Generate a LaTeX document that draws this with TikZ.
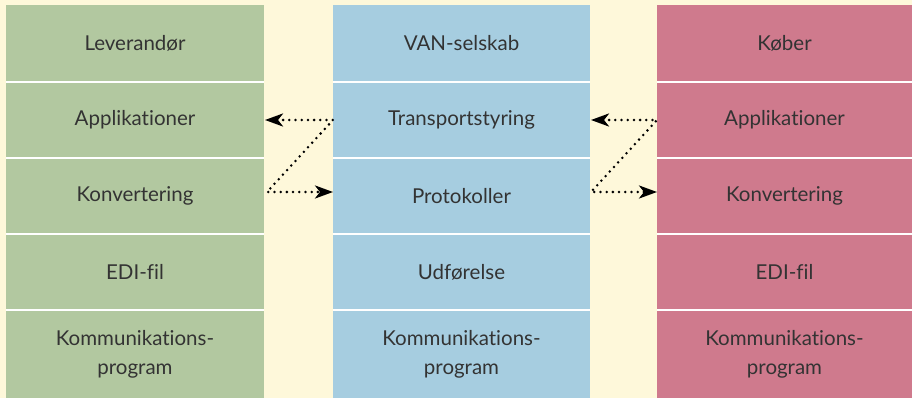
\documentclass[tikz,border=0pt]{standalone}
\usepackage{fontspec}
\setmainfont{Lato}[Ligatures=NoCommon]
\usepackage{tikz}
\usetikzlibrary{arrows.meta,fit}
\definecolor{cream}{HTML}{FEF8DA}
\definecolor{levgreen}{HTML}{B2C8A0}
\definecolor{vanblue}{HTML}{A6CDE0}
\definecolor{kobpink}{HTML}{CF7A8D}
\definecolor{txtgray}{HTML}{333333}

\begin{document}
\begin{tikzpicture}[x=1pt, y=-1pt,
    every fit/.style={inner sep=0pt, outer sep=0pt},
    every label/.style={align=center, text=txtgray, font=\fontsize{20.5}{29}\selectfont},
    dotline/.style={line width=2.8pt, dash pattern=on 0pt off 6.2pt, line cap=round,
      {Stealth[length=18pt,width=13pt,inset=5pt]}-{Stealth[length=18pt,width=13pt,inset=5pt]}}]
      \useasboundingbox (0,0) rectangle (912,398);
      \fill[cream] (0,0) rectangle (912,398);
      % white behind the columns gives the gaps between rows
      \fill[white] (6,5) rectangle (264,398);
      \fill[white] (333,5) rectangle (590,398);
      \fill[white] (657,5) rectangle (912,398);
      \begin{scope}[every node/.append style={fill=levgreen}]
        \node [fit={(6,  5) (264, 81)}, label=center:{Leverandør}] (lev) {};
        \node [fit={(6, 83) (264,157)}, label=center:{Applikationer}] (appl1) {};
        \node [fit={(6,159) (264,233)}, label=center:{Konvertering}] (konv1) {};
        \node [fit={(6,235) (264,309)}, label=center:{EDI-fil}] (edi1) {};
        \node [fit={(6,311) (264,398)}, label=center:{Kommunikations-\\program}] (komm1) {};
      \end{scope}
      \begin{scope}[every node/.append style={fill=vanblue}]
        \node [fit={(333,  5) (590, 81)}, label=center:{VAN-selskab}] (van) {};
        \node [fit={(333, 83) (590,157)}, label=center:{Transportstyring}] (trans) {};
        \node [fit={(333,159) (590,233)}, label=center:{Protokoller}] (prot) {};
        \node [fit={(333,235) (590,309)}, label=center:{Udførelse}] (udf) {};
        \node [fit={(333,311) (590,398)}, label=center:{Kommunikations-\\program}] (komm2) {};
      \end{scope}
      \begin{scope}[every node/.append style={fill=kobpink}]
        \node [fit={(657,  5) (912, 81)}, label=center:{Køber}] (kob) {};
        \node [fit={(657, 83) (912,157)}, label=center:{Applikationer}] (appl2) {};
        \node [fit={(657,159) (912,233)}, label=center:{Konvertering}] (konv2) {};
        \node [fit={(657,235) (912,309)}, label=center:{EDI-fil}] (edi2) {};
        \node [fit={(657,311) (912,398)}, label=center:{Kommunikations-\\program}] (komm3) {};
      \end{scope}
      % the two Z-shaped transfers
      \draw[dotline] ([xshift=1pt]appl1.east) -- (trans.west)
        -- ([xshift=3pt,yshift=4pt]konv1.east) -- ([yshift=4pt]prot.west);
      \draw[dotline] ([xshift=1pt]trans.east) -- (appl2.west)
        -- ([xshift=1pt,yshift=4pt]prot.east) -- ([yshift=4pt]konv2.west);
    \end{tikzpicture}
\end{document}
